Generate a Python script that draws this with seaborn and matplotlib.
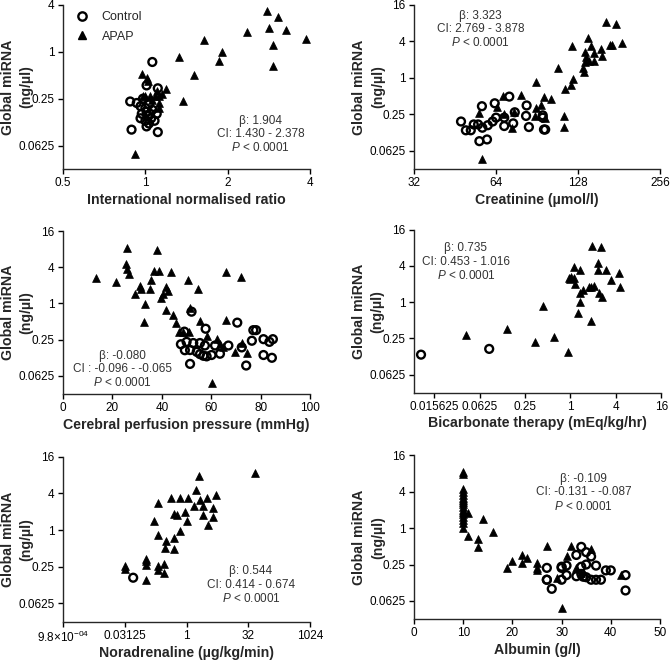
import numpy as np
import pandas as pd
import seaborn as sns
import matplotlib
matplotlib.use("Agg")
import matplotlib.pyplot as plt
from matplotlib.lines import Line2D

# ---- data (miRNA in ng/ul) ----
# International normalised ratio
inr_ctrl = [1.06, 1.01, 1.11, 0.88, 0.93, 0.98, 0.96, 1.0, 1.03, 1.06, 1.1, 0.97, 1.02, 1.05,
            1.0, 1.08, 1.03, 0.96, 1.01, 1.04, 0.89, 1.11, 1.01]
inr_ctrl_mirna = [0.74, 0.37, 0.34, 0.23, 0.22, 0.25, 0.2, 0.19, 0.21, 0.18, 0.16, 0.16, 0.15, 0.14,
                  0.13, 0.13, 0.12, 0.14, 0.17, 0.16, 0.10, 0.093, 0.11]
inr_apap = [2.79, 3.05, 2.83, 3.27, 2.35, 3.86, 1.64, 2.93, 1.9, 1.85, 1.33, 2.93, 1.5, 1.19, 1.37,
            0.92, 0.97, 1.01, 1.02, 1.15, 1.12, 1.08, 1.04, 1.0, 0.98, 1.12, 1.12, 1.06, 1.1]
inr_apap_mirna = [3.36, 2.79, 2.0, 1.88, 1.79, 1.47, 1.43, 1.21, 0.99, 0.76, 0.85, 0.66, 0.5, 0.33, 0.23,
                  0.048, 0.52, 0.46, 0.42, 0.29, 0.27, 0.27, 0.27, 0.27, 0.27, 0.22, 0.19, 0.24, 0.31]

# Creatinine (umol/l)
creat_ctrl = [71.6, 63.3, 56.8, 82.9, 47.6, 49.6, 51.7, 53, 55, 57, 55.6, 59.3, 59.7, 62.2, 64,
              68.6, 68.6, 75, 74, 82.5, 84.5, 95, 95, 96, 97]
creat_ctrl_mirna = [0.49, 0.38, 0.34, 0.35, 0.19, 0.136, 0.136, 0.17, 0.17, 0.15, 0.09, 0.096, 0.165,
                    0.19, 0.22, 0.22, 0.16, 0.27, 0.177, 0.235, 0.154, 0.24, 0.22, 0.14, 0.14]
creat_apap = [162, 177, 139, 185, 122, 143, 168, 171, 155, 136, 146, 157, 137, 136, 140, 147, 134,
              135, 108, 123, 121, 115, 90, 79, 68, 96, 102, 94, 89.5, 64.5, 55.6, 68.6, 89, 97, 114,
              114, 73, 56.7, 74.5]
creat_apap_mirna = [8.5, 7.7, 4.5, 3.8, 3.4, 3.4, 3.5, 3.5, 3.0, 2.7, 2.6, 2.3, 2.2, 1.8, 1.9, 1.87,
                    1.48, 1.23, 1.43, 0.97, 0.76, 0.65, 0.86, 0.52, 0.50, 0.48, 0.45, 0.35, 0.32,
                    0.33, 0.26, 0.25, 0.23, 0.22, 0.23, 0.156, 0.15, 0.045, 0.27]

# Cerebral perfusion pressure (mmHg)
cpp_ctrl = [52.0, 70.5, 57.7, 49.1, 77.0, 78.1, 76.4, 81.1, 84.9, 83.5, 72.3, 81.1, 84.5, 74.1, 51.4,
            47.7, 50, 52.7, 55.4, 57.4, 49.3, 51.4, 54.1, 55.4, 56.8, 58.1, 60.1, 63.5, 61.5, 66.9]
cpp_ctrl_mirna = [0.73, 0.48, 0.38, 0.34, 0.36, 0.36, 0.24, 0.255, 0.255, 0.23, 0.186, 0.139, 0.125,
                  0.093, 0.099, 0.21, 0.23, 0.22, 0.22, 0.2, 0.167, 0.168, 0.157, 0.144, 0.135,
                  0.132, 0.139, 0.146, 0.2, 0.2]
cpp_apap = [25.9, 38.1, 25.4, 25.9, 26.8, 13.2, 21.4, 36.8, 38.8, 43.6, 65.9, 71.9, 50.4, 35.8, 41.6,
            42.3, 31.1, 31.6, 35.1, 54.6, 29.1, 40.5, 39.6, 33.1, 51.4, 41.6, 44.3, 55.4, 32.8, 65.9,
            45.7, 46.8, 48.4, 51.1, 58.1, 62.2, 63.5, 64.6, 69.7, 74.3, 72.3, 60.1]
cpp_apap_mirna = [8.5, 7.7, 4.5, 3.7, 3.1, 2.66, 2.3, 3.4, 3.4, 3.3, 3.3, 2.76, 2.5, 2.5, 1.86, 1.6,
                  1.93, 1.77, 1.74, 1.76, 1.46, 1.41, 1.21, 0.98, 0.85, 0.77, 0.64, 0.51, 0.5, 0.53,
                  0.47, 0.33, 0.33, 0.33, 0.29, 0.26, 0.21, 0.19, 0.154, 0.148, 0.22, 0.047]

# Bicarbonate therapy (mEq/kg/hr)
bicarb_ctrl = [0.0105, 0.084]
bicarb_ctrl_mirna = [0.134, 0.167]
bicarb_apap = [0.042, 0.145, 0.34, 0.43, 0.61, 0.92, 1.26, 1.9, 2.58, 1.96, 2.33, 1.12, 1.36, 2.3,
               2.97, 4.4, 0.97, 1.0, 1.03, 1.1, 3.5, 1.16, 1.75, 1.87, 2.04, 4.5, 1.36, 1.46, 2.4,
               2.6, 1.36]
bicarb_apap_mirna = [0.285, 0.36, 0.22, 0.85, 0.26, 0.148, 0.65, 0.49, 8.3, 8.7, 4.5, 3.8, 3.4, 3.4,
                     3.4, 3.0, 2.5, 2.45, 2.6, 2.5, 2.3, 1.99, 1.8, 1.8, 1.85, 1.8, 1.44, 1.58, 1.44,
                     1.22, 0.99]

# Noradrenaline (ug/kg/min)
nor_ctrl = [0.05]
nor_ctrl_mirna = [0.165]
nor_apap = [46.5, 2.0, 1.7, 5.3, 3.07, 0.41, 0.71, 1.06, 2.1, 1.5, 2.46, 0.2, 4.5, 0.93, 0.49, 0.59,
            2.55, 4.3, 1.0, 0.16, 3.3, 0.7, 0.2, 0.49, 0.31, 0.3, 0.49, 0.1, 0.1, 0.1, 0.031, 0.031,
            0.2, 0.2, 0.28, 0.28, 0.1]
nor_apap_mirna = [8.5, 7.8, 4.5, 3.8, 3.4, 3.4, 3.4, 3.4, 3.1, 2.5, 2.5, 2.8, 2.3, 1.97, 1.85, 1.8,
                  1.8, 1.62, 1.43, 1.43, 1.19, 0.98, 0.83, 0.74, 0.65, 0.51, 0.49, 0.33, 0.31, 0.27,
                  0.26, 0.23, 0.26, 0.22, 0.28, 0.2, 0.15]

# Albumin (g/l)
alb_ctrl = [34, 33, 36, 35, 27, 30, 31, 35, 37, 34, 39, 40, 43, 43, 28, 27, 27, 30, 31, 33, 34.4, 35,
            36, 37, 38, 34, 30]
alb_ctrl_mirna = [0.49, 0.36, 0.34, 0.4, 0.22, 0.22, 0.24, 0.25, 0.24, 0.23, 0.2, 0.2, 0.167, 0.093,
                  0.099, 0.14, 0.14, 0.14, 0.167, 0.16, 0.157, 0.154, 0.14, 0.14, 0.14, 0.175, 0.23]
alb_apap = [10] * 17 + [11, 11, 14, 16, 13, 13, 27, 32, 36, 22, 23, 20, 22, 19, 25, 25, 25, 31, 33,
                        29, 30, 42, 34]
alb_apap_mirna = [8.5, 8, 4.5, 4, 3.5, 3.1, 2.9, 2.7, 2.55, 2.25, 2.0, 1.87, 1.74, 1.54, 1.36, 1.2,
                  0.99, 1.79, 0.75, 1.4, 0.85, 0.66, 0.49, 0.5, 0.51, 0.46, 0.36, 0.32, 0.29, 0.26,
                  0.22, 0.26, 0.22, 0.2, 0.34, 0.22, 0.148, 0.047, 0.167, 0.18]

y_ticks = [0.0625, 0.25, 1, 4, 16]
y_labels = ["0.0625", "0.25", "1", "4", "16"]

stats = [
    "\u03b2: 1.904\nCI: 1.430 - 2.378\n$P$ < 0.0001",
    "\u03b2: 3.323\nCI: 2.769 - 3.878\n$P$ < 0.0001",
    "\u03b2: -0.080\nCI : -0.096 - -0.065\n$P$ < 0.0001",
    "\u03b2: 0.735\nCI: 0.453 - 1.016\n$P$ < 0.0001",
    "\u03b2: 0.544\nCI: 0.414 - 0.674\n$P$ < 0.0001",
    "\u03b2: -0.109\nCI: -0.131 - -0.087\n$P$ < 0.0001",
]

sns.set_style("ticks")
plt.rcParams["font.family"] = ["Liberation Sans", "DejaVu Sans"]
plt.rcParams["mathtext.fontset"] = "custom"
plt.rcParams["mathtext.it"] = "Liberation Sans:italic"
plt.rcParams["mathtext.rm"] = "Liberation Sans"
plt.rcParams["axes.linewidth"] = 1.0
plt.rcParams["xtick.major.width"] = 1.0
plt.rcParams["ytick.major.width"] = 1.0


def draw(ax, xc, yc, xa, ya):
    sns.scatterplot(x=xa, y=ya, ax=ax, marker="^", s=32, color="black", edgecolor="black",
                    linewidth=0.5, zorder=3)
    sns.scatterplot(x=xc, y=yc, ax=ax, marker="o", s=32, facecolors="none", edgecolor="black",
                    linewidth=1.7, zorder=4)
    ax.set_yscale("log", base=2)
    sns.despine(ax=ax)
    ax.tick_params(labelsize=8.5, colors="black", length=3.5, pad=2.5)


fig = plt.figure(figsize=(6.7, 6.6), dpi=100)
pos = [
    [0.094, 0.744, 0.369, 0.2485],
    [0.618, 0.744, 0.367, 0.2485],
    [0.094, 0.403, 0.369, 0.247],
    [0.618, 0.405, 0.369, 0.247],
    [0.094, 0.058, 0.369, 0.250],
    [0.618, 0.062, 0.367, 0.248],
]
axes = [fig.add_axes(p) for p in pos]

draw(axes[0], inr_ctrl, inr_ctrl_mirna, inr_apap, inr_apap_mirna)
draw(axes[1], creat_ctrl, creat_ctrl_mirna, creat_apap, creat_apap_mirna)
draw(axes[2], cpp_ctrl, cpp_ctrl_mirna, cpp_apap, cpp_apap_mirna)
draw(axes[3], bicarb_ctrl, bicarb_ctrl_mirna, bicarb_apap, bicarb_apap_mirna)
draw(axes[4], nor_ctrl, nor_ctrl_mirna, nor_apap, nor_apap_mirna)
draw(axes[5], alb_ctrl, alb_ctrl_mirna, alb_apap, alb_apap_mirna)

# y axes
for i, ax in enumerate(axes):
    if i == 0:
        ax.set_ylim(2 ** -5, 4)
        ax.set_yticks(y_ticks[:4], y_labels[:4])
    else:
        ax.set_ylim(2 ** -5, 16)
        ax.set_yticks(y_ticks, y_labels)
    ax.set_ylabel("Global miRNA\n(ng/\u00b5l)", fontsize=10.2, fontweight="bold", linespacing=1.4)
    ax.yaxis.set_label_coords(-0.185, 0.5)
    ax.yaxis.label.set_verticalalignment("center")

# x axes
ax = axes[0]
ax.set_xscale("log", base=2)
ax.set_xlim(0.5, 4)
ax.set_xticks([0.5, 1, 2, 4], ["0.5", "1", "2", "4"])
ax.set_xlabel("International normalised ratio", fontsize=10.2, fontweight="bold")

ax = axes[1]
ax.set_xscale("log", base=2)
ax.set_xlim(32, 256)
ax.set_xticks([32, 64, 128, 256], ["32", "64", "128", "256"])
ax.set_xlabel("Creatinine (\u00b5mol/l)", fontsize=10.2, fontweight="bold")

ax = axes[2]
ax.set_xlim(0, 100)
ax.set_xticks([0, 20, 40, 60, 80, 100])
ax.set_xlabel("Cerebral perfusion pressure (mmHg)", fontsize=10.2, fontweight="bold")

ax = axes[3]
ax.set_xscale("log", base=2)
ax.set_xlim(2 ** -6.88, 16)
ax.set_xticks([2 ** -6, 2 ** -4, 0.25, 1, 4, 16], ["0.015625", "0.0625", "0.25", "1", "4", "16"])
ax.set_xlabel("Bicarbonate therapy (mEq/kg/hr)", fontsize=10.2, fontweight="bold")

ax = axes[4]
ax.set_xscale("log", base=2)
ax.set_xlim(2 ** -10, 1024)
ax.set_xticks([2 ** -10, 2 ** -5, 1, 32, 1024],
              ["9.8$\\times$10$^{-04}$", "0.03125", "1", "32", "1024"])
ax.set_xlabel("Noradrenaline (\u00b5g/kg/min)", fontsize=10.2, fontweight="bold")

ax = axes[5]
ax.set_xlim(0, 50)
ax.set_xticks([0, 10, 20, 30, 40, 50])
ax.set_xlabel("Albumin (g/l)", fontsize=10.2, fontweight="bold")

for ax in axes:
    ax.minorticks_off()
    ax.xaxis.set_label_coords(0.5, -0.145)

# stats annotations
text_pos = [(0.80, 0.21), (0.27, 0.85), (0.24, 0.15), (0.21, 0.80), (0.76, 0.22), (0.69, 0.77)]
for ax, s, (tx, ty) in zip(axes, stats, text_pos):
    ax.text(tx, ty, s, transform=ax.transAxes, ha="center", va="center", fontsize=8.5,
            color="#333333", linespacing=1.15)

# legend in first panel
handles = [
    Line2D([], [], marker="o", linestyle="none", markerfacecolor="none", markeredgecolor="black",
           markeredgewidth=1.7, markersize=6, label="Control"),
    Line2D([], [], marker="^", linestyle="none", color="black", markersize=6, label="APAP"),
]
axes[0].legend(handles=handles, loc="upper left", frameon=False, fontsize=9,
               bbox_to_anchor=(0.0, 1.03), handlelength=1.2, handletextpad=1.0, labelspacing=0.6)

fig.savefig("out.png", dpi=100)
